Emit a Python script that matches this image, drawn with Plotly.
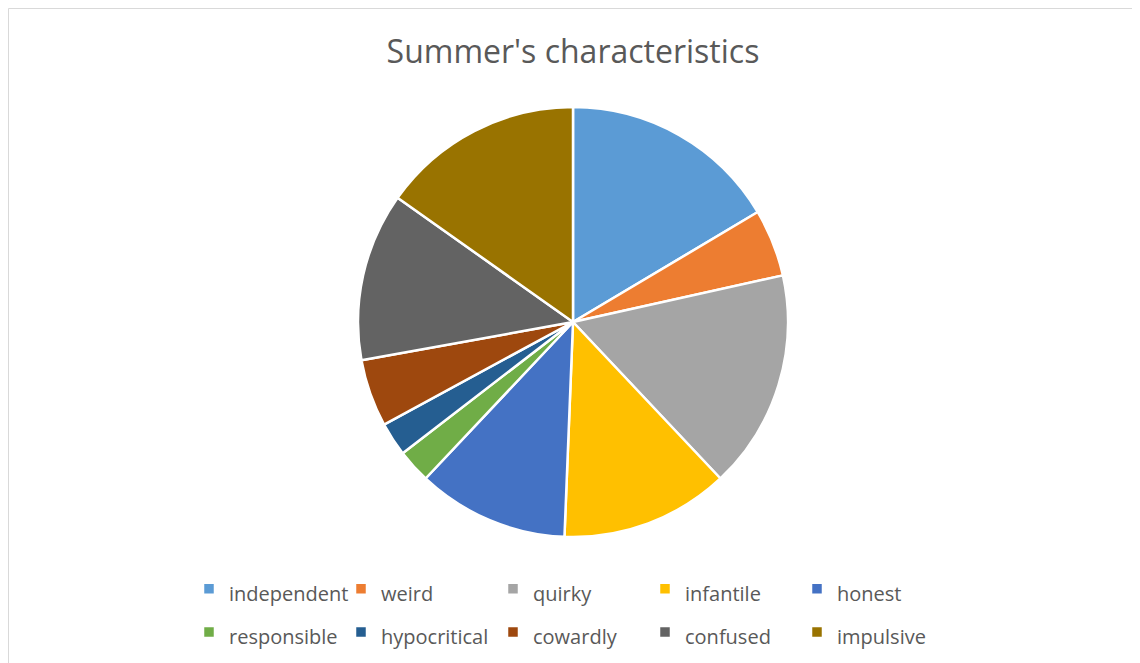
import plotly.graph_objects as go

labels = ["independent", "weird", "quirky", "infantile", "honest",
          "responsible", "hypocritical", "cowardly", "confused", "impulsive"]
values = [13, 4, 13, 10, 9, 2, 2, 4, 10, 12]
colors = ["#5B9BD5", "#ED7D31", "#A5A5A5", "#FFC000", "#4472C4",
          "#70AD47", "#255E91", "#9E480E", "#636363", "#997300"]
title_text = "Summer's characteristics"

W, H = 1140, 663
ML, MR = 175, 175
PW = W - ML - MR

cx, cy, r = 565, 314, 215

legend_labels = ['<span style="font-size:20px">%s</span>' % s for s in labels]

fig = go.Figure(go.Pie(
    labels=legend_labels,
    values=values,
    sort=False,
    direction="clockwise",
    rotation=0,
    textinfo="none",
    hovertext=labels,
    hoverinfo="text+value+percent",
    marker=dict(colors=colors, line=dict(color="white", width=2.5)),
    domain=dict(x=[(cx - r - ML) / PW, (cx + r - ML) / PW],
                y=[(H - cy - r) / H, (H - cy + r) / H]),
))

fig.update_layout(
    width=W, height=H,
    margin=dict(l=ML, r=MR, t=0, b=0),
    paper_bgcolor="white",
    font=dict(family="Open Sans", color="#595959"),
    title=dict(text=title_text, x=(cx - ML) / PW, xref="paper", xanchor="center",
               y=1 - 44 / H, yref="container", yanchor="middle",
               font=dict(size=32, color="#595959", family="Open Sans")),
    showlegend=True,
    legend=dict(orientation="h", x=(181 - ML) / PW, xanchor="left",
                y=(H - 554) / H, yanchor="top",
                entrywidth=107, entrywidthmode="pixels",
                font=dict(size=31, color="#595959", family="Open Sans"),
                bgcolor="rgba(0,0,0,0)", traceorder="normal"),
    shapes=[dict(type="rect", xref="paper", yref="paper",
                 x0=(0.5 - ML) / PW, x1=(1127 - ML) / PW,
                 y0=-0.05, y1=(H - 0.5) / H,
                 line=dict(color="#D9D9D9", width=1), fillcolor="rgba(0,0,0,0)")],
)

fig.write_html("out.html")
